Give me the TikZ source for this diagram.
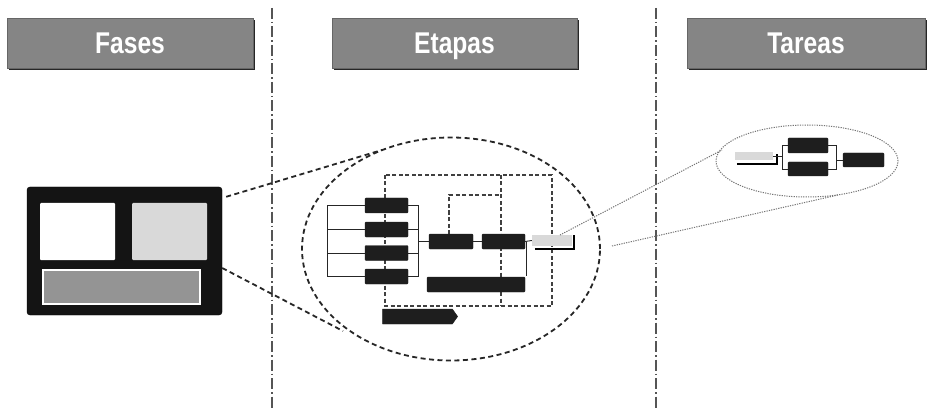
\documentclass[tikz,border=0pt]{standalone}
\usepackage{fontspec}
\setmainfont{Liberation Sans}
\newfontfamily\hdrfont[FakeStretch=0.82]{Liberation Sans}
\usetikzlibrary{shapes.geometric,shapes.symbols,calc,shadows}
\definecolor{hdrgray}{HTML}{858585}
\definecolor{darkbox}{HTML}{1E1E1E}
\definecolor{lightbox}{HTML}{D9D9D9}
\definecolor{linegray}{HTML}{555555}
\begin{document}
\begin{tikzpicture}[x=1pt,y=-1pt,
  hdr/.style={fill=hdrgray, draw=black!60, line width=0.6pt, inner sep=0pt,
    minimum height=50pt, text=white,
    font=\hdrfont\bfseries\fontsize{30}{30}\selectfont,
    drop shadow={shadow xshift=1.8pt, shadow yshift=-1.8pt, fill=black!85, opacity=1}},
  hdrtext/.style={inner sep=0pt, text=white, text height=21.5pt, text depth=0pt,
    font=\hdrfont\bfseries\fontsize{30}{30}\selectfont},
  sep/.style={draw=linegray, line width=1.1pt, dash pattern=on 11pt off 3pt on 1.5pt off 3pt},
  dbox/.style={fill=darkbox, draw=darkbox, rounded corners=1pt, inner sep=0pt, minimum height=15pt},
  lbox/.style={fill=lightbox, draw=none, inner sep=0pt},
  conn/.style={draw=black!85, line width=0.9pt},
  bigdash/.style={draw=black!85, line width=1.8pt, dash pattern=on 5pt off 3.5pt},
  smalldash/.style={draw=black!75, line width=1.1pt, dash pattern=on 4pt off 2.5pt},
  dots/.style={draw=black!55, line width=1pt, dash pattern=on 1.2pt off 1.2pt}
]
\useasboundingbox (0,0) rectangle (927,409);
\fill[white] (0,0) rectangle (927,409);

% column separators
\draw[sep] (272,8) -- (272,409);
\draw[sep] (656,8) -- (656,409);

% headers
\node[hdr, minimum width=246pt] (hF) at (130,43) {};
\node[hdr, minimum width=245pt] (hE) at (454.5,43) {};
\node[hdr, minimum width=238pt] (hT) at (806,43) {};
\node[hdrtext] (tF) at (hF.center) {Fases};
\node[hdrtext] (tEt) at (hE.center) {Etapas};
\node[hdrtext] (tTa) at (hT.center) {Tareas};

% Fases panel
\node[fill=black!92, draw=black, rounded corners=3pt, minimum width=195pt, minimum height=128pt, inner sep=0pt] (fp) at (124.5,251) {};
\node[fill=white, inner sep=0pt, minimum width=75pt, minimum height=57pt, rounded corners=1pt] (fw) at (77.5,231.5) {};
\node[fill=black!15, inner sep=0pt, minimum width=75pt, minimum height=57pt, rounded corners=1pt] (fl) at (169.5,231.5) {};
\node[fill=black!42, draw=white, line width=1.5pt, inner sep=0pt, minimum width=157pt, minimum height=34pt] (fb) at (121.5,287) {};

% Etapas ellipse
\node[ellipse, bigdash, minimum width=298pt, minimum height=223pt, inner sep=0pt] (eE) at (451,249) {};
\coordinate (eT) at (382,150);
\coordinate (eB) at (343,331);
\draw[bigdash] ($(fp.north east)+(4,10)$) -- (eT);
\draw[bigdash] ($(fp.east)+(0,17)$) -- (eB);

% dashed frames behind stage diagram
\draw[smalldash] (385,175) rectangle (552,306);
\draw[smalldash] (501,175) -- (501,306);
\draw[smalldash] (449,234) -- (449,195) -- (501,195);

% stage boxes
\node[dbox, minimum width=43pt] (b1) at (386.5,205.5) {};
\node[dbox, minimum width=43pt] (b2) at (386.5,229.5) {};
\node[dbox, minimum width=43pt] (b3) at (386.5,253) {};
\node[dbox, minimum width=43pt] (b4) at (386.5,276.5) {};
\node[dbox, minimum width=44pt] (b5) at (451,241.5) {};
\node[dbox, minimum width=43pt] (b6) at (503.5,241.5) {};
\node[lbox, minimum width=40pt, minimum height=11pt] (b7) at (552,240.5) {};
\node[dbox, minimum width=98pt] (b8) at (476,284.5) {};
\node[signal, signal to=east, signal pointer angle=110, fill=darkbox, draw=darkbox,
  inner sep=0pt, minimum width=75pt, minimum height=15pt] (b9) at (417.5,316.5) {};

% stage connectors
\coordinate (lbr) at (327,241);
\coordinate (rbr) at (418,241.5);
\draw[conn] (b1.west) -| (lbr |- b4.west) -- (b4.west);
\draw[conn] (b2.west) -- (lbr |- b2.west);
\draw[conn] (b3.west) -- (lbr |- b3.west);
\draw[conn] (b1.east) -| (rbr |- b4.east) -- (b4.east);
\draw[conn] (b2.east) -- (rbr |- b2.east);
\draw[conn] (b3.east) -- (rbr |- b3.east);
\draw[conn] (rbr) -- (b5.west);
\draw[conn] (b5.east) -- (b6.west);
\draw[conn] (b6.east) -- (b7.west);
\draw[conn] ($(b6.east)+(1.5,0)$) -- ($(b8.north east)+(1.5,-1)$);
\draw[black, line width=2pt] ($(b7.south west)+(3,3)$) -| ($(b7.north east)+(1.5,0)$);

% Tareas ellipse
\node[ellipse, dots, minimum width=182pt, minimum height=72pt, inner sep=0pt] (tE) at (807,161) {};
\coordinate (tS1) at (560,235);
\coordinate (tS2) at (612,246);
\coordinate (tL) at (722,150);
\coordinate (tB) at (838,195);
\draw[dots] (tS1) -- (tL);
\draw[dots] (tS2) -- (tB);

% task boxes
\node[lbox, minimum width=38pt, minimum height=8pt] (tg) at (754,156) {};
\node[dbox, minimum width=40pt, minimum height=15pt] (tA) at (808,145.5) {};
\node[dbox, minimum width=40pt, minimum height=14pt] (tBx) at (808,169) {};
\node[dbox, minimum width=41pt, minimum height=14pt] (tC) at (863.5,160) {};
\draw[black, line width=2pt] ($(tg.south west)+(2,4)$) -| ($(tg.south east)+(4,-6)$);
\coordinate (tlb) at (782,157);
\coordinate (trb) at (836,157);
\draw[conn, line width=0.7pt] (tA.west) -| (tlb |- tBx.west) -- (tBx.west);
\draw[conn, line width=0.7pt] (tg.east) -- (tlb |- tg.east);
\draw[conn, line width=0.7pt] (tA.east) -| (trb |- tBx.east) -- (tBx.east);
\draw[conn, line width=0.7pt] (trb |- tC.west) -- (tC.west);
\end{tikzpicture}
\end{document}
